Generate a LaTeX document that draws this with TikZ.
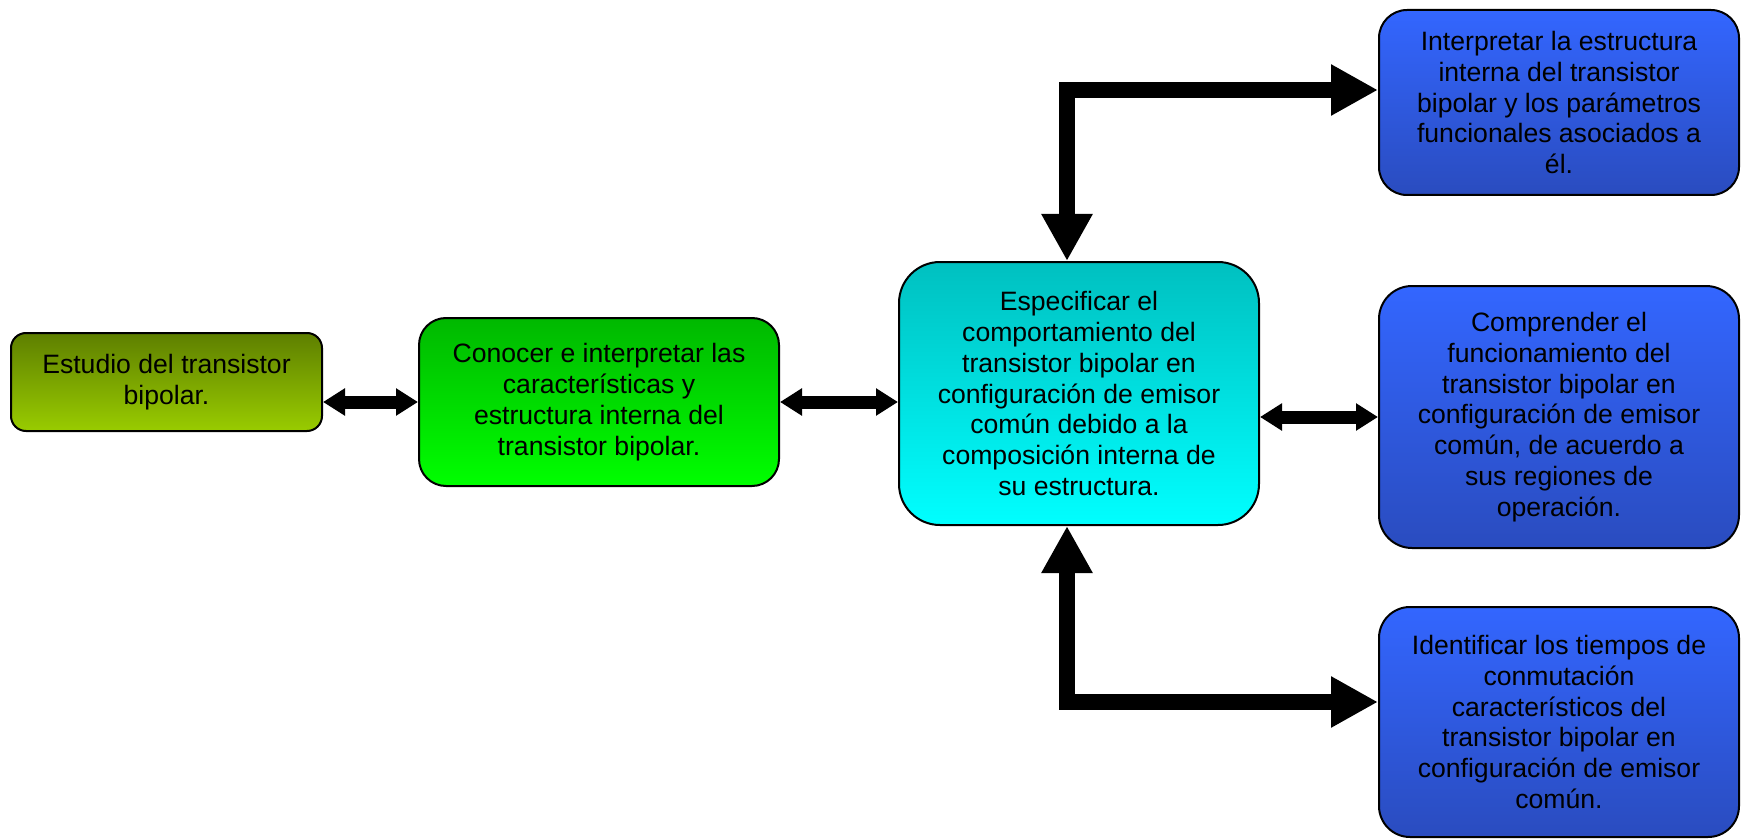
\documentclass[tikz,border=0pt]{standalone}
\usepackage{fontspec}
\setmainfont{Liberation Sans}
\usepackage{xcolor}
\usepackage{tikz}
\usetikzlibrary{arrows.meta}
\definecolor{BjtOliveTop}{HTML}{5E7F00}
\definecolor{BjtOliveBot}{HTML}{99CC00}
\definecolor{BjtGreenTop}{HTML}{00B800}
\definecolor{BjtGreenBot}{HTML}{00FF00}
\definecolor{BjtCyanTop}{HTML}{00C0C0}
\definecolor{BjtCyanBot}{HTML}{00FFFF}
\definecolor{BjtBlueTop}{HTML}{3366FF}
\definecolor{BjtBlueBot}{HTML}{2A4CBF}
\tikzset{
  goalbox/.style={draw=black, line width=1pt, align=center, inner sep=2pt,
    font=\fontsize{13.3}{15.4}\selectfont},
  bluebox/.style={goalbox, top color=BjtBlueTop, bottom color=BjtBlueBot,
    minimum width=180pt},
  fatlink/.style={line width=6.5pt,
    {Triangle[width=13pt,length=11pt]}-{Triangle[width=13pt,length=11pt]}},
  bigelbow/.style={line width=8pt,
    {Triangle[width=24pt,length=23.5pt]}-{Triangle[width=24pt,length=23.5pt]}},
}

\begin{document}
\begin{tikzpicture}[x=0.5pt,y=-0.5pt]
        \useasboundingbox (0,0) rectangle (1742,840);
        % main chain
        \node[goalbox, top color=BjtOliveTop, bottom color=BjtOliveBot, minimum width=155.5pt, minimum height=49pt, rounded corners=7.5pt] (estudio) at (166.5,382) {Estudio del transistor\\bipolar.};
        \node[goalbox, top color=BjtGreenTop, bottom color=BjtGreenBot, minimum width=180pt, minimum height=84pt, rounded corners=13.5pt] (conocer) at (599,402) {Conocer e interpretar las\\caracter\'isticas y\\estructura interna del\\transistor bipolar.};
        \node[goalbox, top color=BjtCyanTop, bottom color=BjtCyanBot, minimum width=180pt, minimum height=131.5pt, rounded corners=20.5pt] (especificar) at (1079,393.5) {Especificar el\\comportamiento del\\transistor bipolar en\\configuraci\'on de emisor\\com\'un debido a la\\composici\'on interna de\\su estructura.};
        % objectives
        \node[bluebox, minimum height=92.5pt, rounded corners=14pt] (interpretar) at (1559,102.5) {Interpretar la estructura\\interna del transistor\\bipolar y los par\'ametros\\funcionales asociados a\\\'el.};
        \node[bluebox, minimum height=131pt, rounded corners=16.5pt] (comprender) at (1559,417) {Comprender el\\funcionamiento del\\transistor bipolar en\\configuraci\'on de emisor\\com\'un, de acuerdo a\\sus regiones de\\operaci\'on.};
        \node[bluebox, minimum height=115pt, rounded corners=15.5pt] (identificar) at (1559,722) {Identificar los tiempos de\\conmutaci\'on\\caracter\'isticos del\\transistor bipolar en\\configuraci\'on de emisor\\com\'un.};
        % connectors
        \coordinate (upjoin) at (1067,90);
        \coordinate (downjoin) at (1067,702);
        \draw[fatlink] (estudio.east |- conocer.west) -- (conocer.west);
        \draw[fatlink] (conocer.east) -- (especificar.west |- conocer.east);
        \draw[fatlink] (especificar.east |- comprender.west) -- (comprender.west);
        \draw[bigelbow] (especificar.north -| upjoin) |- (interpretar.west |- upjoin);
        \draw[bigelbow] (especificar.south -| downjoin) |- (identificar.west |- downjoin);
      \end{tikzpicture}
\end{document}
